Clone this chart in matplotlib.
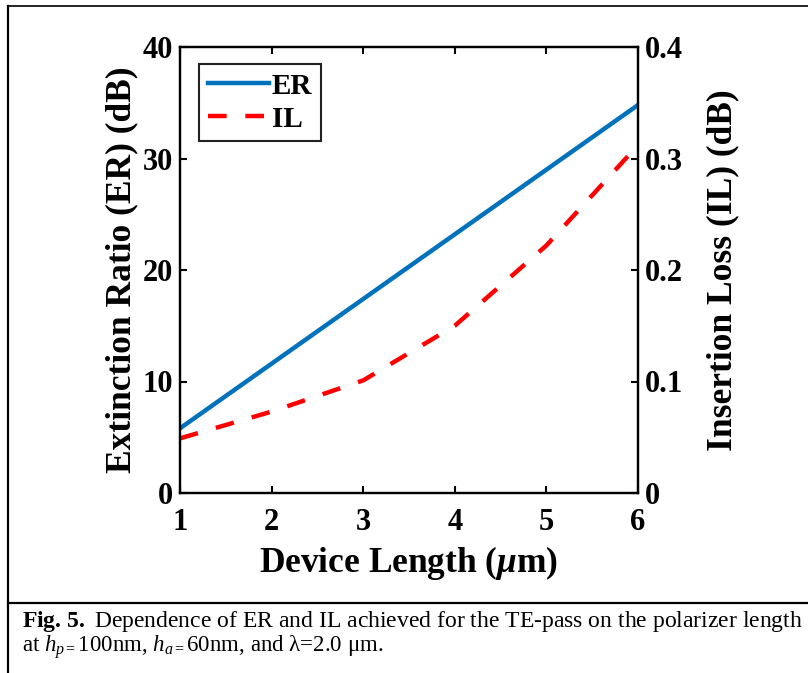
import matplotlib
matplotlib.use("Agg")
import matplotlib.pyplot as plt
from matplotlib.lines import Line2D

# ---- data ----
device_length = [1, 2, 3, 4, 5, 6]
er_values = [5.8, 11.6, 17.4, 23.2, 29.0, 34.8]
il_values = [0.049, 0.073, 0.101, 0.150, 0.222, 0.312]
x_ticks = [1, 2, 3, 4, 5, 6]
er_ticks = [0, 10, 20, 30, 40]
il_ticks = [0, 0.1, 0.2, 0.3, 0.4]
il_tick_labels = ["0", "0.1", "0.2", "0.3", "0.4"]

plt.rcParams['font.family'] = ['Liberation Serif', 'DejaVu Serif']
plt.rcParams['mathtext.fontset'] = 'custom'
plt.rcParams['mathtext.rm'] = 'Liberation Serif'
plt.rcParams['mathtext.it'] = 'Liberation Serif:italic'
plt.rcParams['mathtext.bf'] = 'Liberation Serif:bold'
plt.rcParams['mathtext.bfit'] = 'Liberation Serif:italic:bold'

W, H = 808, 673
fig = plt.figure(figsize=(W / 100, H / 100), dpi=100)
ax = fig.add_axes([180 / W, 1 - 493 / H, (638 - 180) / W, (493 - 47) / H])
ax2 = ax.twinx()

blue = '#0072BD'
red = '#FF0000'
l1, = ax.plot(device_length, er_values, color=blue, lw=3.2, label='ER')
l2, = ax2.plot(device_length, il_values, color=red, lw=3.2, ls=(0, (4.2, 4.2)), label='IL')

ax.set_xlim(1, 6)
ax.set_ylim(0, 40)
ax2.set_ylim(0, 0.4)
ax.set_xticks(x_ticks)
ax.set_yticks(er_ticks)
ax2.set_yticks(il_ticks)
ax2.set_yticklabels(il_tick_labels)

for a in (ax, ax2):
    for s in a.spines.values():
        s.set_linewidth(1.6)
ax.tick_params(axis='x', direction='in', length=5, width=1.5, top=True, labelsize=22, pad=11)
ax.tick_params(axis='y', direction='in', length=5, width=1.5, labelsize=22, pad=5)
ax2.tick_params(axis='y', direction='in', length=5, width=1.5, labelsize=22, pad=5)
for lab in ax.get_xticklabels() + ax.get_yticklabels() + ax2.get_yticklabels():
    lab.set_fontweight('bold')

ax.set_xlabel(r'Device Length ($\mathbfit{\mu}$m)', fontsize=25.5, fontweight='bold', labelpad=5)
ax.set_ylabel('Extinction Ratio (ER) (dB)', fontsize=25.5, fontweight='bold', labelpad=3)
ax2.set_ylabel('Insertion Loss (IL) (dB)', fontsize=25.5, fontweight='bold', labelpad=17)

leg = ax.legend(handles=[l1, l2], loc='upper left', bbox_to_anchor=(0.0415, 0.962),
                borderaxespad=0,
                fancybox=False, framealpha=1, edgecolor='#222222', borderpad=0.3,
                handlelength=2.1, handletextpad=0.1, labelspacing=0.2,
                prop={'weight': 'bold', 'size': 21})
leg.get_frame().set_linewidth(1.5)

# caption
fig.text(22 / W, 1 - 621 / H,
         r'$\mathbf{Fig.\,5.}$ Dependence of ER and IL achieved for the TE-pass on the polarizer length',
         fontsize=17, va='center', ha='left')
fig.text(22 / W, 1 - 647 / H,
         r'at $h_{p=}$100nm, $h_{a=}$60nm, and λ=2.0 μm.',
         fontsize=16.5, va='center', ha='left')

# border lines
fig.add_artist(Line2D([8 / W, 8 / W], [0, 1 - 6 / H], color='black', lw=1.6, transform=fig.transFigure))
fig.add_artist(Line2D([8 / W, 1], [1 - 6 / H, 1 - 6 / H], color='black', lw=1.2, transform=fig.transFigure))
fig.add_artist(Line2D([8 / W, 1], [1 - 603 / H, 1 - 603 / H], color='black', lw=1.6, transform=fig.transFigure))

fig.savefig('out.png', dpi=100)
